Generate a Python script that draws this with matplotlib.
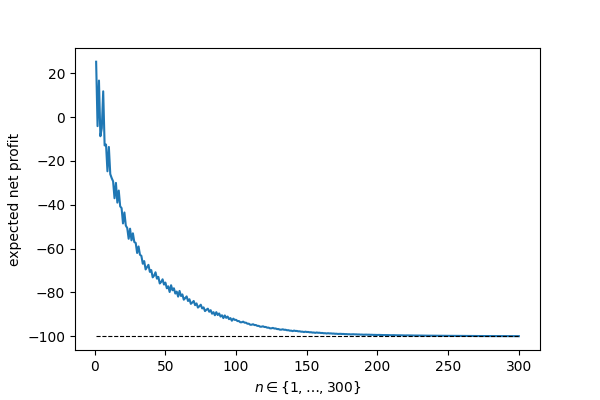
import numpy as np
from matplotlib import pyplot as plt

# n values (1..300) and expected net profit
n_values = list(range(1, 301))
profit = [
    25.3, -4.1, 16.7, -8.7, -5.0, 11.8, -12.9, -12.5, -24.7, -13.6,
    -26.0, -27.8, -29.3, -37.0, -30.0, -39.0, -33.5, -40.7, -41.5, -48.5,
    -43.5, -49.5, -50.6, -55.5, -50.9, -56.2, -53.0, -57.0, -57.4, -62.0,
    -59.0, -62.8, -63.3, -66.9, -65.7, -69.5, -68.4, -67.4, -70.6, -69.8,
    -73.1, -72.3, -70.8, -73.7, -72.9, -75.9, -75.2, -74.0, -76.4, -75.5,
    -78.1, -77.2, -79.8, -76.7, -79.0, -78.1, -80.5, -79.6, -81.9, -79.3,
    -81.6, -80.9, -83.3, -82.6, -81.8, -83.9, -83.1, -85.2, -84.6, -83.9,
    -85.8, -85.0, -86.9, -86.3, -85.6, -87.3, -86.8, -88.5, -87.9, -87.4,
    -88.8, -88.1, -89.7, -89.0, -90.4, -89.0, -90.3, -89.6, -91.0, -90.4,
    -91.7, -90.5, -91.6, -91.0, -92.2, -91.7, -92.9, -91.95, -92.52, -92.50,
    -93.07, -93.05, -93.62, -93.60, -93.33, -93.80, -93.80, -94.27, -94.26, -94.74,
    -94.73, -94.50, -94.89, -94.87, -95.26, -95.25, -95.63, -95.62, -95.45, -95.76,
    -95.76, -96.07, -96.06, -96.38, -96.37, -96.18, -96.45, -96.45, -96.72, -96.71,
    -96.99, -96.98, -96.82, -97.04, -97.03, -97.25, -97.23, -97.45, -97.44, -97.66,
    -97.40, -97.58, -97.57, -97.75, -97.73, -97.91, -97.90, -98.08, -97.90, -98.05,
    -98.03, -98.18, -98.16, -98.31, -98.29, -98.44, -98.27, -98.40, -98.38, -98.51,
    -98.49, -98.62, -98.60, -98.73, -98.60, -98.70, -98.68, -98.78, -98.76, -98.86,
    -98.84, -98.94, -98.92, -98.88, -98.96, -98.94, -99.02, -99.00, -99.08, -99.06,
    -99.14, -99.12, -99.07, -99.14, -99.12, -99.19, -99.17, -99.24, -99.22, -99.29,
    -99.27, -99.24, -99.29, -99.28, -99.33, -99.32, -99.37, -99.36, -99.41, -99.41,
    -99.38, -99.42, -99.41, -99.45, -99.44, -99.47, -99.46, -99.50, -99.49, -99.53,
    -99.49, -99.52, -99.52, -99.55, -99.54, -99.57, -99.57, -99.60, -99.59, -99.63,
    -99.59, -99.61, -99.61, -99.64, -99.63, -99.66, -99.65, -99.68, -99.67, -99.70,
    -99.68, -99.70, -99.70, -99.72, -99.71, -99.73, -99.72, -99.74, -99.74, -99.75,
    -99.74, -99.76, -99.76, -99.77, -99.77, -99.78, -99.78, -99.79, -99.79, -99.80,
    -99.80, -99.79, -99.81, -99.81, -99.82, -99.82, -99.83, -99.83, -99.84, -99.84,
    -99.85, -99.85, -99.85, -99.86, -99.86, -99.87, -99.87, -99.87, -99.88, -99.88,
    -99.88, -99.89, -99.89, -99.88, -99.89, -99.89, -99.90, -99.90, -99.90, -99.91,
    -99.91, -99.91, -99.91, -99.92, -99.91, -99.92, -99.92, -99.92, -99.93, -99.93,
    -99.93, -99.93, -99.94, -99.94, -99.94, -99.94, -99.94, -99.95, -99.95, -99.95,
]
limit = -100  # long-run value (dashed line)

plt.figure(figsize=(6, 4), dpi=100)
plt.subplots_adjust(bottom=0.125)
plt.plot(n_values, profit)
plt.hlines(limit, n_values[0], n_values[-1], colors="k", linestyles="--", linewidth=0.8)
plt.xlabel(r"$n \in \{1, \ldots, 300\}$")
plt.ylabel("expected net profit")
plt.savefig("out.png")
